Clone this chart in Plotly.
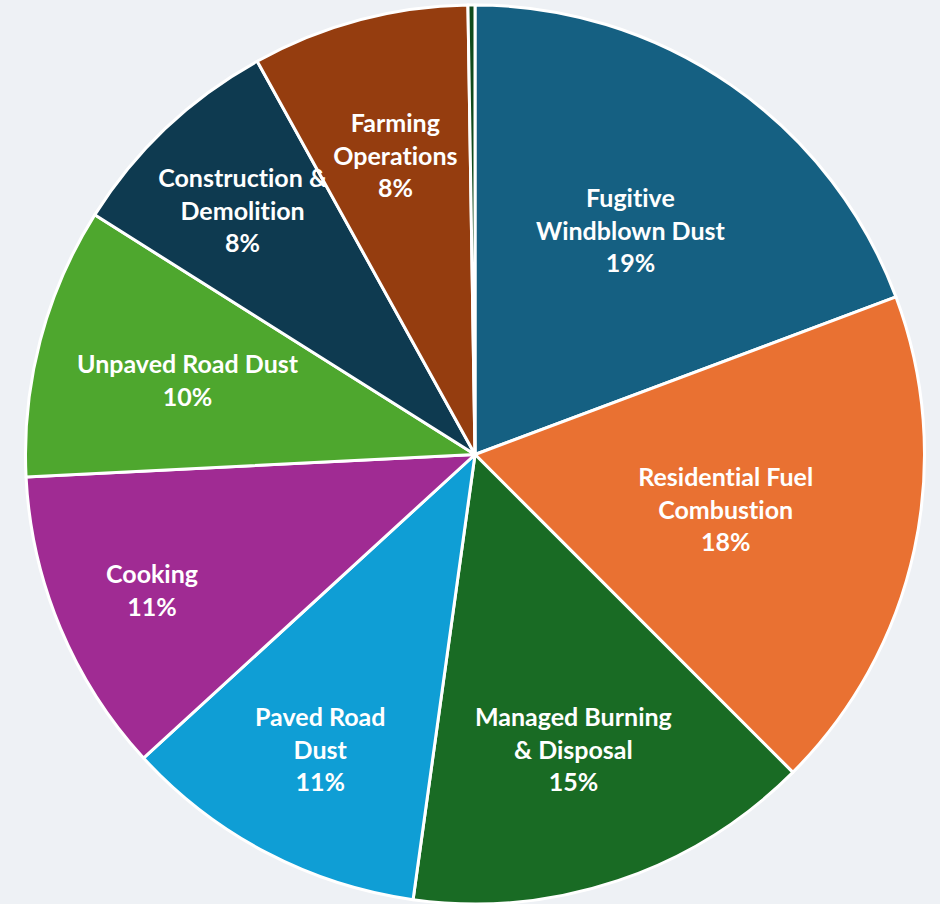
import math
import plotly.graph_objects as go

categories = [
    "Fugitive Windblown Dust",
    "Residential Fuel Combustion",
    "Managed Burning & Disposal",
    "Paved Road Dust",
    "Cooking",
    "Unpaved Road Dust",
    "Construction & Demolition",
    "Farming Operations",
    "Other",
]
label_lines = [
    "Fugitive<br>Windblown Dust",
    "Residential Fuel<br>Combustion",
    "Managed Burning<br>& Disposal",
    "Paved Road<br>Dust",
    "Cooking",
    "Unpaved Road Dust",
    "Construction &<br>Demolition",
    "Farming<br>Operations",
    "",
]
values = [19.3, 18.2, 14.7, 11.0, 11.0, 9.75, 8.0, 7.8, 0.25]
colors = ["#156082", "#E97132", "#196B24", "#0F9ED5", "#A02B93",
          "#4EA72E", "#0E3A50", "#953D0F", "#0F4A1C"]

# label placement (fraction of radius along each slice's bisector)
label_radius = [0.61, 0.57, 0.69, 0.74, 0.78, 0.66, 0.75, 0.69, 0.0]

W, H = 940, 904
dom_x = [25 / W, 925 / W]
dom_y = [0, 899 / H]

fig = go.Figure(go.Pie(
    labels=categories,
    values=values,
    textinfo="none",
    sort=False,
    direction="clockwise",
    rotation=0,
    marker=dict(colors=colors, line=dict(color="white", width=3)),
    domain=dict(x=dom_x, y=dom_y),
    hoverinfo="label+percent",
))

# label annotations positioned on slice bisectors derived from the values
cx = (dom_x[0] + dom_x[1]) / 2 * W
cy = (dom_y[0] + dom_y[1]) / 2 * H
R = min((dom_x[1] - dom_x[0]) * W, (dom_y[1] - dom_y[0]) * H) / 2
total = sum(values)
cum = 0.0
for name, txt, v, rf in zip(categories, label_lines, values, label_radius):
    mid = (cum + v / 2) / total * 2 * math.pi
    cum += v
    if not txt:
        continue
    px = cx + rf * R * math.sin(mid)
    py = cy + rf * R * math.cos(mid)
    fig.add_annotation(
        x=px / W, y=py / H, xref="paper", yref="paper",
        text=f"{txt}<br>{round(v / total * 100)}%",
        showarrow=False, align="center",
        xanchor="center", yanchor="middle",
        font=dict(family="Lato", size=25, color="white", weight="bold"),
    )

fig.update_layout(
    width=W, height=H,
    margin=dict(l=0, r=0, t=0, b=0),
    paper_bgcolor="#EEF1F5",
    showlegend=False,
)

fig.write_html(
    "out.html",
    config={"displayModeBar": False},
    post_script=(
        "document.body.style.margin='0';"
        "document.body.style.background='#EEF1F5';"
        "document.querySelectorAll('svg, text').forEach(function(e){"
        "e.style.fontVariantLigatures='none';"
        "e.style.fontFeatureSettings='\"liga\" 0, \"clig\" 0';});"
    ),
)
